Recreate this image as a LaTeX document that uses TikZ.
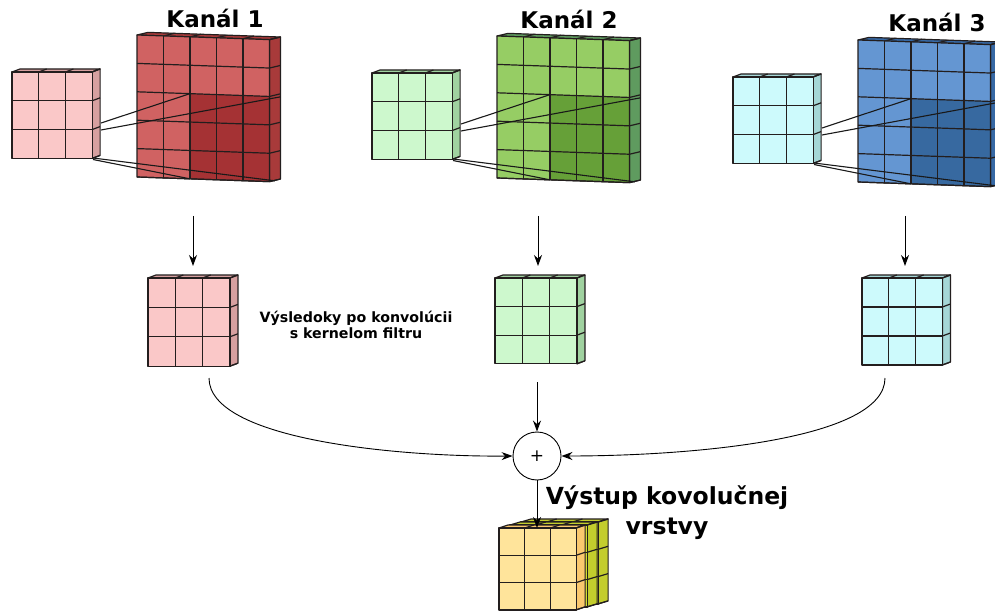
\documentclass[tikz,border=0pt]{standalone}
\usepackage{fontspec}
\setmainfont{DejaVu Sans}
\usetikzlibrary{arrows.meta}
\definecolor{gridc}{RGB}{35,30,30}
% red
\definecolor{rkF}{RGB}{250,200,200}\definecolor{rkS}{RGB}{215,160,160}
\definecolor{rbF}{RGB}{208,98,98}\definecolor{rbS}{RGB}{168,58,58}\definecolor{rbD}{RGB}{165,50,52}
% green
\definecolor{gkF}{RGB}{205,248,205}\definecolor{gkS}{RGB}{160,210,160}
\definecolor{gbF}{RGB}{150,205,100}\definecolor{gbS}{RGB}{95,155,95}\definecolor{gbD}{RGB}{102,160,56}
% blue
\definecolor{bkF}{RGB}{205,250,252}\definecolor{bkS}{RGB}{165,215,215}
\definecolor{bbF}{RGB}{100,150,210}\definecolor{bbS}{RGB}{55,105,165}\definecolor{bbD}{RGB}{55,105,160}
% output
\definecolor{oF}{RGB}{255,228,155}\definecolor{oS}{RGB}{250,200,110}
\definecolor{oB}{RGB}{214,222,50}\definecolor{oBs}{RGB}{195,205,45}
\tikzset{
  gl/.style={draw=gridc, line width=1.2pt, line join=round},
  arr/.style={-{Stealth[length=11pt,width=8pt]}, line width=0.9pt},
  proj/.style={draw=black!90, line width=1.1pt},
  bigtitle/.style={font=\fontsize{23}{28}\selectfont\bfseries},
}
% #1 ncols #2 nrows #3 cw #4 ch #5 dx #6 dy #7 front #8 side #9 hook
\newcommand{\slab}[9]{%
  \pgfmathsetmacro\gW{#1*#3}%
  \pgfmathsetmacro\gH{#2*#4}%
  \filldraw[gl, fill=#8] (0,0) -- (#5,#6) -- ({\gW+(#5)},#6) -- (\gW,0) -- cycle;
  \filldraw[gl, fill=#8] (\gW,0) -- ({\gW+(#5)},#6) -- ({\gW+(#5)},{\gH+(#6)}) -- (\gW,\gH) -- cycle;
  \foreach \ci in {1,...,#1} \draw[gl] ({\ci*#3},0) -- ({\ci*#3+(#5)},#6);
  \foreach \rj in {1,...,#2} \draw[gl] (\gW,{\rj*#4}) -- ({\gW+(#5)},{\rj*#4+(#6)});
  \fill[#7] (0,0) rectangle (\gW,\gH);
  #9
  \foreach \ci in {1,...,#1} \draw[gl] ({\ci*#3},0) -- ({\ci*#3},\gH);
  \foreach \rj in {1,...,#2} \draw[gl] (0,{\rj*#4}) -- (\gW,{\rj*#4});
  \draw[gl] (0,0) rectangle (\gW,\gH);
}
% #1 origin, #2 kernel front, #3 kernel side, #4 big front, #5 big side, #6 dark, #7 name
\newcommand{\channel}[7]{%
\begin{scope}[shift={#1}]
  \slab{3}{3}{26.7}{28.8}{8}{-3}{#2}{#3}{}
  \coordinate (#7-k1) at (89,51);
  \coordinate (#7-k2) at (89,58);
  \coordinate (#7-k3) at (81,87.5);
  \coordinate (#7-k4) at (81,86);
  \begin{scope}[shift={(125,-37)}, yslant=-0.035]
    \slab{5}{5}{26.5}{28.4}{11}{-3}{#4}{#5}{\fill[#6] (53,56.8) rectangle (132.5,142);}
    \coordinate (#7-d1) at (53,56.8);
    \coordinate (#7-d2) at (143.5,56.8);
    \coordinate (#7-d3) at (53,142);
    \coordinate (#7-d4) at (138,141);
  \end{scope}
  \draw[proj] (#7-k1) -- (#7-d1);
  \draw[proj] (#7-k2) -- (#7-d2);
  \draw[proj] (#7-k3) -- (#7-d3);
  \draw[proj] (#7-k4) -- (#7-d4);
\end{scope}}
\begin{document}
\begin{tikzpicture}[x=1pt,y=-1pt]
\useasboundingbox (0,0) rectangle (995,612);
\clip (0,0) rectangle (995,612);
\fill[white] (0,0) rectangle (995,612);

% channels
\channel{(12,72)}{rkF}{rkS}{rbF}{rbS}{rbD}{c1}
\channel{(372,73)}{gkF}{gkS}{gbF}{gbS}{gbD}{c2}
\channel{(733,77)}{bkF}{bkS}{bbF}{bbS}{bbD}{c3}

\node[bigtitle] (t1) at (215,18) {Kanál 1};
\node[bigtitle] (t2) at (569,19) {Kanál 2};
\node[bigtitle] (t3) at (937,22) {Kanál 3};

% result maps
\begin{scope}[shift={(148,278)}] \slab{3}{3}{27.3}{29.4}{8}{-3}{rkF}{rkS}{} \end{scope}
\begin{scope}[shift={(495,278)}] \slab{3}{3}{27.3}{28.6}{8}{-3}{gkF}{gkS}{} \end{scope}
\begin{scope}[shift={(862,278)}] \slab{3}{3}{26.8}{29}{8}{-3}{bkF}{bkS}{} \end{scope}

% down arrows
\coordinate (a1s) at (193,216); \coordinate (a1e) at (193,266);
\coordinate (a2s) at (538,216); \coordinate (a2e) at (538,266);
\coordinate (a3s) at (905,216); \coordinate (a3e) at (905,266);
\draw[arr] (a1s) -- (a1e);
\draw[arr] (a2s) -- (a2e);
\draw[arr] (a3s) -- (a3e);

\node[font=\fontsize{14.2}{16}\selectfont\bfseries, align=center] (note) at (356,325)
  {Výsledoky po konvolúcii\\s kernelom filtru};

% sum
\node[draw, circle, line width=0.9pt, minimum size=48pt, inner sep=0pt,
      font=\fontsize{17}{17}\selectfont] (sum) at (537,456) {+};
\coordinate (r1b) at (209,378);
\coordinate (r2b) at (537,382);
\coordinate (r3b) at (885,378);
\draw[arr] (r1b) .. controls (209,440) and (400,457) .. (sum.west);
\draw[arr] (r2b) -- (sum.north);
\draw[arr] (r3b) .. controls (885,440) and (690,456) .. (sum.east);

% output cube
\begin{scope}[shift={(521,522)}] \slab{3}{3}{25.7}{27.3}{10}{-3}{oB}{oBs}{} \end{scope}
\begin{scope}[shift={(510,525)}] \slab{3}{3}{25.7}{27.3}{10}{-3}{oB}{oBs}{} \end{scope}
\begin{scope}[shift={(499,528)}] \slab{3}{3}{25.7}{27.3}{9}{-3}{oF}{oS}{} \end{scope}
\coordinate (outtop) at (537,528);
\draw[arr] (sum.south) -- (outtop);

\node[font=\fontsize{23.5}{30}\selectfont\bfseries, align=center] (outlbl) at (667,513)
  {Výstup kovolučnej\\vrstvy};
\end{tikzpicture}
\end{document}
